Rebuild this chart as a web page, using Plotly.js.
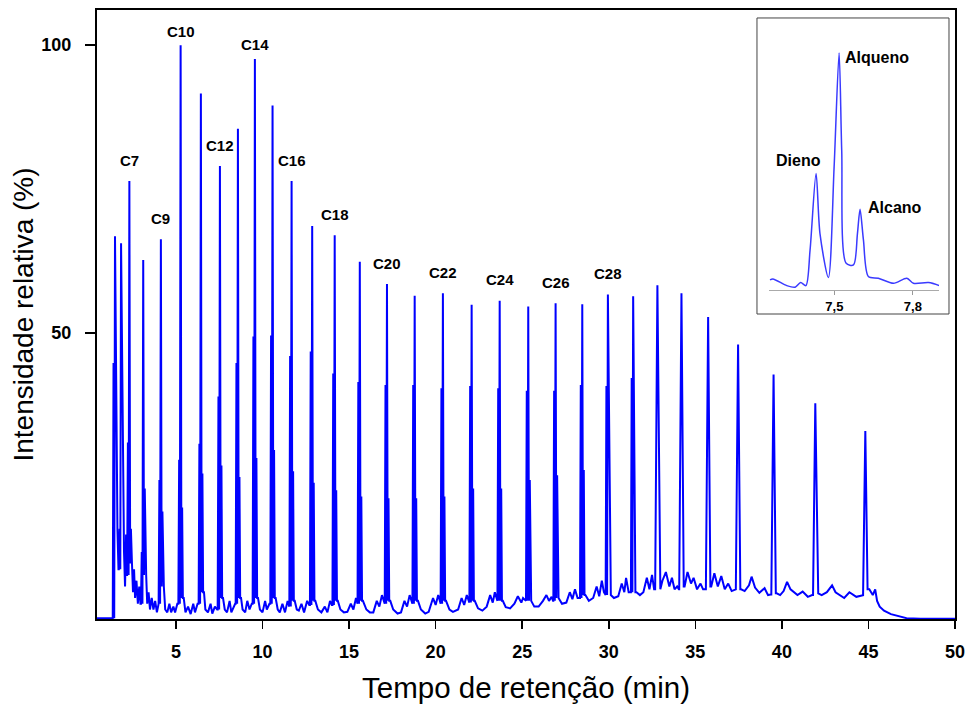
<!DOCTYPE html>
<html>
<head>
<meta charset="utf-8">
<script src="https://cdn.plot.ly/plotly-3.0.1.min.js"></script>
<style>html,body{margin:0;padding:0;background:#fff}#chart{width:972px;height:706px}</style>
</head>
<body>
<div id="chart"></div>
<script>
// ---- Data ----
// Main peak clusters (alkene = tallest line of each cluster)
const peakTimes = [1.48, 1.83, 2.31, 3.11, 4.13, 5.27, 6.44, 7.54, 8.58, 9.56, 10.58, 11.68, 12.87, 14.17, 15.62, 17.19, 18.79, 20.42, 22.08, 23.70, 25.35, 26.93, 28.47, 29.95, 31.41, 32.81, 34.20, 35.74, 37.47, 39.52, 41.93, 44.82];
const alkeneHeights = [66.8, 65.6, 76.4, 62.7, 66.3, 100, 91.6, 79, 85.5, 97.6, 89.5, 76.4, 68.6, 67, 62.4, 58.5, 56.5, 56.9, 54.9, 55.6, 54.6, 55.2, 55, 56.7, 56.4, 58.3, 56.9, 52.8, 48, 42.8, 37.8, 33];
const dieneHeights = [44.8, 16, 31, 12, 24.5, 28, 30.8, 39, 44.8, 49.4, 49.6, 46, 46.8, 43, 41.5, 41, 41, 40.4, 40.8, 40.4, 40, 40, 41, 40.8, 42.2, null, null, null, null, null, null, null];
const alkaneHeights = [null, null, 16, 23, 19, 19.7, 25.6, 27, 25, 28.3, 29.7, 26, 24, 22.7, 21.6, 21.3, 21.3, 21.6, 23, 23, 24.5, 25.3, 26.2, null, null, null, null, null, null, null, null, null];

// Baseline between the clusters
const baseTimes = [0.44, 1.30,
  1.62, 1.68, 2.00, 2.06, 2.12, 2.17,
  2.46, 2.52, 2.58, 2.64, 2.72, 2.80, 2.88, 2.95,
  3.28, 3.34, 3.42, 3.50, 3.60, 3.70, 3.80, 3.90, 3.98,
  4.30, 4.38, 4.50, 4.62, 4.72, 4.85, 4.95, 5.08,
  5.45, 5.55, 5.70, 5.85, 6.00, 6.10, 6.25,
  6.62, 6.70, 6.85, 7.00, 7.10, 7.25, 7.38,
  7.72, 7.82, 7.95, 8.10, 8.20, 8.32, 8.42,
  8.76, 8.85, 9.00, 9.12, 9.25, 9.38,
  9.74, 9.85, 10.00, 10.15, 10.25, 10.40,
  10.76, 10.88, 11.00, 11.15, 11.30, 11.45, 11.52,
  11.86, 11.98, 12.10, 12.25, 12.40, 12.58, 12.70,
  13.05, 13.20, 13.40, 13.60, 13.75, 13.90, 14.00,
  14.35, 14.50, 14.70, 14.90, 15.10, 15.25, 15.40, 15.47,
  15.80, 16.00, 16.20, 16.40, 16.60, 16.75, 16.90, 17.02,
  17.38, 17.55, 17.80, 18.00, 18.20, 18.35, 18.50, 18.62,
  18.98, 19.15, 19.40, 19.60, 19.85, 20.00, 20.15, 20.25,
  20.60, 20.80, 21.00, 21.30, 21.50, 21.65, 21.80, 21.92,
  22.26, 22.45, 22.70, 22.95, 23.15, 23.30, 23.42, 23.55,
  23.88, 24.05, 24.30, 24.55, 24.75, 24.95, 25.05, 25.20,
  25.52, 25.70, 25.95, 26.20, 26.40, 26.55, 26.70, 26.78,
  27.10, 27.30, 27.55, 27.75, 27.90, 28.05, 28.20, 28.31,
  28.65, 28.85, 29.10, 29.30, 29.45, 29.60, 29.72, 29.80,
  30.12, 30.30, 30.55, 30.75, 30.90, 31.00, 31.15, 31.26,
  31.60, 31.80, 32.00, 32.20, 32.35, 32.50, 32.62,
  32.98, 33.10, 33.30, 33.50, 33.65, 33.80, 33.95, 34.05,
  34.38, 34.55, 34.75, 34.90, 35.10, 35.30, 35.45, 35.58,
  35.92, 36.10, 36.30, 36.50, 36.70, 36.90, 37.10, 37.30,
  37.65, 37.85, 38.10, 38.25, 38.45, 38.70, 39.00, 39.20, 39.35,
  39.70, 39.90, 40.10, 40.30, 40.50, 40.90, 41.20, 41.50, 41.75,
  42.10, 42.30, 42.60, 42.90, 43.10, 43.60, 43.90, 44.30, 44.60,
  45.05, 45.25, 45.39, 45.50, 45.65, 45.90, 46.30, 46.80, 47.20, 48.00, 50.00];
const baseLevels = [0.5, 0.5,
  16, 9, 12, 6, 15, 8,
  10, 5, 9, 4, 7, 3, 6, 3,
  8, 3, 5, 2, 4, 2, 3.5, 1.5, 3,
  6, 2, 1.5, 3, 1.5, 2.5, 1.5, 3,
  4, 1.5, 2.5, 1.2, 3, 1.5, 3,
  5, 2, 1.5, 3, 1.3, 2.5, 2,
  4, 2, 1.5, 3.5, 1.5, 2.5, 3,
  4, 2, 1.5, 3.5, 2, 3,
  4, 2, 1.5, 3.5, 2, 3,
  4, 2, 1.5, 3, 1.5, 3.5, 2.5,
  3.5, 2, 1.8, 3, 1.5, 3.5, 2.8,
  3.5, 2, 1.5, 2.5, 1.5, 3.5, 2.8,
  3.5, 2, 1.5, 1.6, 3, 2, 4, 3,
  3.5, 2, 1.5, 1.5, 3.5, 2.5, 4.5, 3,
  3.5, 2, 1.3, 1.5, 3.5, 2.5, 4.5, 3,
  3.5, 2, 1.3, 1.6, 4, 2.8, 4.5, 3,
  3.5, 2, 1.6, 2, 4, 2.8, 4.5, 3.2,
  3.5, 2.2, 1.8, 2.5, 4.5, 3.2, 5, 3.5,
  3.5, 2.4, 2.2, 3, 4.3, 3.2, 4, 3.5,
  3.5, 2.5, 2.5, 3.5, 4.5, 3.5, 4.2, 3.5,
  4, 3, 3.2, 5, 3.8, 5.5, 4, 4,
  4.5, 3.5, 4, 6, 4.3, 7, 5, 4.5,
  4.5, 4, 4.3, 6.5, 5, 7.5, 5, 5,
  5, 4.5, 5, 7.5, 5.5, 8, 5.5,
  5.5, 7, 8.5, 6, 7.5, 5.5, 6, 5.5,
  6, 8.5, 6.5, 7.5, 5.5, 6.5, 5.5, 5.5,
  6, 8.3, 6, 7.8, 5.5, 6.5, 5.2, 5.5,
  5.5, 5.2, 6.2, 7.7, 5.8, 4.9, 5.7, 4.5, 4.6,
  4.8, 4.5, 5.2, 6.8, 5.5, 4.5, 5.1, 4.2, 4.5,
  4.8, 4.5, 5, 6.2, 5, 4, 5, 4.2, 4.5,
  5.5, 4.5, 5.5, 3.5, 2.5, 1.8, 1.2, 0.8, 0.5, 0.4, 0.4];

// Labelled carbon numbers
const labelNames = ['C7', 'C9', 'C10', 'C12', 'C14', 'C16', 'C18', 'C20', 'C22', 'C24', 'C26', 'C28'];
const labelPeakIdx = [2, 4, 5, 7, 9, 11, 13, 15, 17, 19, 21, 23];

// Inset: zoom on the C12 cluster
const insetTimes = [7.254, 7.265, 7.318, 7.350, 7.371, 7.391, 7.407, 7.430, 7.445, 7.477, 7.499, 7.518, 7.528, 7.545, 7.573, 7.588, 7.598, 7.611, 7.630, 7.668, 7.726, 7.777, 7.802, 7.860, 7.902];
const insetSignal = [2.2, 2.6, -0.3, -1, 1, -0.3, 15, 48, 22, 3.2, 51, 100, 58, 9.3, 8.6, 22, 32.6, 19.4, 3.6, 2.9, 0.7, 2.9, 0.7, 1, -0.3];
const insetNames = ['Dieno', 'Alqueno', 'Alcano'];
const insetPeakTimes = [7.430, 7.518, 7.598];
const insetPeakHeights = [48, 100, 32.6];

// ---- Build the main trace from the clusters and the baseline ----
const FOOT = 0.13, DIENE_OFF = 0.085, ALKANE_OFF = 0.088, VALLEY_OFF = 0.045;
function baseBefore(t) { let v = baseLevels[0]; for (let i = 0; i < baseTimes.length; i++) { if (baseTimes[i] <= t) v = baseLevels[i]; } return v; }
function baseAfter(t) { for (let i = 0; i < baseTimes.length; i++) { if (baseTimes[i] >= t) return baseLevels[i]; } return baseLevels[baseLevels.length - 1]; }
const pts = [];
baseTimes.forEach((bt, i) => {
  const inside = peakTimes.some(t => Math.abs(bt - t) < FOOT);
  if (!inside) pts.push([bt, baseLevels[i]]);
});
peakTimes.forEach((t, i) => {
  const bL = baseBefore(t - FOOT), bR = baseAfter(t + FOOT);
  pts.push([t - FOOT, bL]);
  if (dieneHeights[i] !== null) { pts.push([t - DIENE_OFF, dieneHeights[i]]); pts.push([t - VALLEY_OFF, bL]); }
  pts.push([t, alkeneHeights[i]]);
  if (alkaneHeights[i] !== null) { pts.push([t + VALLEY_OFF, bR]); pts.push([t + ALKANE_OFF, alkaneHeights[i]]); }
  pts.push([t + FOOT, bR]);
});
pts.sort((a, b) => a[0] - b[0]);

const FONT = 'Liberation Sans, Arial, Helvetica, sans-serif';
const traces = [
  { x: pts.map(p => p[0]), y: pts.map(p => p[1]), type: 'scatter', mode: 'lines',
    line: { color: '#0000ff', width: 2 }, hoverinfo: 'skip', xaxis: 'x', yaxis: 'y' },
  { x: insetTimes, y: insetSignal, type: 'scatter', mode: 'lines',
    line: { color: '#3a3aff', width: 1.5, shape: 'spline', smoothing: 0.8 }, hoverinfo: 'skip', xaxis: 'x2', yaxis: 'y2' }
];

const annotations = labelNames.map((name, k) => ({
  x: peakTimes[labelPeakIdx[k]], y: alkeneHeights[labelPeakIdx[k]], xref: 'x', yref: 'y',
  text: name, showarrow: false, xanchor: 'center', yanchor: 'middle',
  yshift: (name === 'C10' || name === 'C14') ? 14 : 21,
  font: { family: FONT, size: 15, color: '#000', weight: 'bold' }
}));
const insetStyle = [
  { xanchor: 'center', xshift: -18, yshift: 13 },
  { xanchor: 'left', xshift: 4, yshift: -4 },
  { xanchor: 'left', xshift: 6, yshift: 2 }
];
insetNames.forEach((name, k) => {
  annotations.push(Object.assign({
    x: insetPeakTimes[k], y: insetPeakHeights[k], xref: 'x2', yref: 'y2',
    text: name, showarrow: false, yanchor: 'middle',
    font: { family: FONT, size: 16, color: '#000', weight: 'bold' }
  }, insetStyle[k]));
});

const layout = {
  width: 972, height: 706,
  margin: { l: 97, r: 17, t: 10, b: 87 },
  paper_bgcolor: '#ffffff', plot_bgcolor: '#ffffff',
  showlegend: false,
  font: { family: FONT, color: '#000' },
  xaxis: {
    range: [0.44, 50], tickvals: [5, 10, 15, 20, 25, 30, 35, 40, 45, 50],
    ticks: 'outside', ticklen: 8, tickwidth: 1.5, tickcolor: '#000',
    showline: true, linewidth: 2, linecolor: '#000', mirror: true,
    showgrid: false, zeroline: false, ticklabelstandoff: 7,
    tickfont: { family: FONT, size: 18, color: '#000', weight: 'bold' },
    title: { text: 'Tempo de retenção (min)', font: { family: FONT, size: 29.5, color: '#000' }, standoff: 17 }
  },
  yaxis: {
    range: [0.35, 106.1], tickvals: [50, 100],
    ticks: 'outside', ticklen: 10, tickwidth: 1.5, tickcolor: '#000',
    showline: true, linewidth: 2, linecolor: '#000', mirror: true,
    showgrid: false, zeroline: false, ticklabelstandoff: 10,
    tickfont: { family: FONT, size: 18, color: '#000', weight: 'bold' },
    title: { text: 'Intensidade relativa (%)', font: { family: FONT, size: 28, color: '#000' }, standoff: 0 }
  },
  xaxis2: {
    domain: [0.7832, 0.9814], anchor: 'y2', range: [7.25, 7.90],
    tickvals: [7.5, 7.8], ticktext: ['7,5', '7,8'],
    ticks: 'outside', ticklen: 4, tickwidth: 1, tickcolor: '#999',
    showline: true, linewidth: 1, linecolor: '#aaa', mirror: false,
    showgrid: false, zeroline: false,
    tickfont: { family: FONT, size: 13, color: '#000', weight: 'bold' }
  },
  yaxis2: { domain: [0.5402, 0.9507], anchor: 'x2', range: [-2.2, 105.6], visible: false, showgrid: false, zeroline: false },
  shapes: [
    { type: 'rect', xref: 'paper', yref: 'paper', x0: 0.7692, x1: 0.9930, y0: 0.5008, y1: 0.9869,
      line: { color: '#444', width: 1 }, fillcolor: 'rgba(0,0,0,0)' }
  ],
  annotations: annotations
};

Plotly.newPlot('chart', traces, layout, { displayModeBar: false, staticPlot: true });
</script>
</body>
</html>
